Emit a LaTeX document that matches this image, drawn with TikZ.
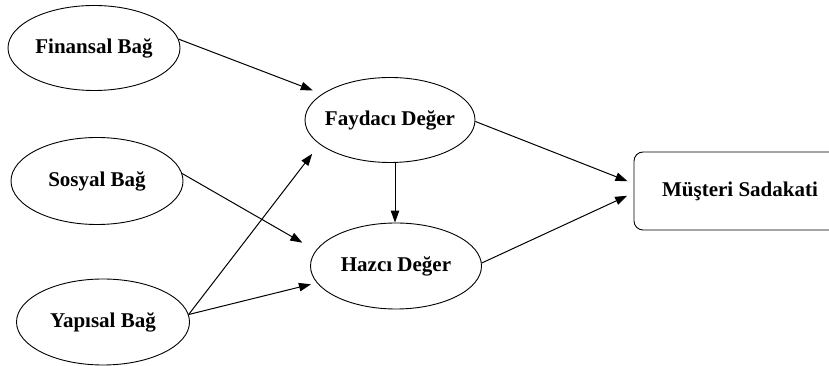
\documentclass[tikz,border=0pt]{standalone}
\usepackage{fontspec}
\setmainfont{Liberation Serif}
\usetikzlibrary{shapes.geometric,arrows.meta,calc}
\begin{document}
\begin{tikzpicture}[x=1pt,y=1pt,
  oval/.style={draw,line width=0.9pt,ellipse,inner sep=0pt,font=\fontsize{21}{25}\selectfont\bfseries},
  conn/.style={line width=1pt,-{Triangle[length=12pt,width=8.5pt]}},
  sadbox/.style={draw,line width=0.9pt,rounded corners=9pt,minimum width=212pt,minimum height=78pt,inner sep=0pt,font=\fontsize{21}{25}\selectfont\bfseries}]
\useasboundingbox (0,0) rectangle (829,366);
\node[oval,minimum width=172pt,minimum height=85pt] (fin) at (94,318) {\makebox[100pt]{Finansal Bağ}};
\node[oval,minimum width=172pt,minimum height=87pt] (sos) at (97,185) {\makebox[100pt]{Sosyal Bağ}};
\node[oval,minimum width=173pt,minimum height=86pt] (yap) at (103,44) {\makebox[100pt]{Yapısal Bağ}};
\node[oval,minimum width=170pt,minimum height=85pt] (fay) at (390,246) {\makebox[100pt]{Faydacı Değer}};
\node[oval,minimum width=171pt,minimum height=86pt] (haz) at (396,100) {\makebox[100pt]{Hazcı Değer}};
\node[sadbox] (sad) at (740,175) {Müşteri Sadakati};
\draw[conn,shorten >=10pt] (fin.6) -- (fay.159.4);
\draw[conn,shorten >=15.5pt] (sos.5.5) -- (haz.169.2);
\draw[conn,shorten >=12pt] (yap.5) -- (fay.199.2);
\draw[conn,shorten >=6pt] (yap.5) -- (haz.192.6);
\draw[conn] ($(fay.south -| haz.north)+(-1,0)$) -- ($(haz.north)+(-1,0)$);
\draw[conn,shorten >=6.5pt] (fay.-1) -- (sad.176.4);
\draw[conn,shorten >=7pt] (haz.2) -- (sad.181.7);
\end{tikzpicture}
\end{document}
